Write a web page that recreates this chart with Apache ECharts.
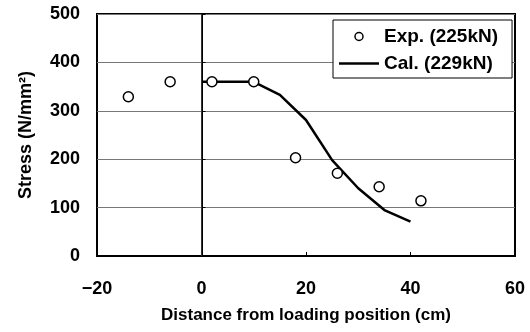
<!DOCTYPE html>
<html><head><meta charset="utf-8">
<script src="https://cdn.jsdelivr.net/npm/echarts@6/dist/echarts.min.js"></script>
<style>html,body{margin:0;padding:0;background:#fff}#c{width:530px;height:332px}</style>
</head><body><div id="c"></div>
<script>
var expX = [-14, -6, 2, 10, 18, 26, 34, 42];
var expY = [329, 360, 360, 360, 203, 171, 143, 114];
var calX = [0, 10, 15, 20, 25, 30, 35, 40];
var calY = [360, 360, 333, 281, 198, 140, 95, 71];
var xTicks = [-20, 0, 20, 40, 60];
var yTicks = [0, 100, 200, 300, 400, 500];
var seriesNames = ['Exp. (225kN)', 'Cal. (229kN)'];

var FONT = 'Liberation Sans';
var chart = echarts.init(document.getElementById('c'), null, {renderer: 'canvas'});
chart.setOption({
  animation: false,
  backgroundColor: '#fff',
  grid: {left: 97, right: 15, top: 14, bottom: 76, show: true, borderColor: '#000', borderWidth: 2, backgroundColor: 'transparent'},
  xAxis: {
    type: 'value', min: xTicks[0], max: xTicks[xTicks.length-1], interval: 20,
    name: 'Distance from loading position (cm)', nameLocation: 'middle', nameGap: 51,
    nameTextStyle: {fontFamily: FONT, fontSize: 17, color: '#000', fontWeight: 'bold'},
    axisLine: {show: true, lineStyle: {color: '#000', width: 2}},
    axisTick: {show: true, inside: true, length: 4, lineStyle: {color: '#000'}},
    axisLabel: {fontFamily: FONT, fontSize: 18, fontWeight: 'bold', color: '#000', margin: 24,
      formatter: function(v){ return v < 0 ? '\u2212' + (-v) : String(v); }},
    splitLine: {show: false}
  },
  yAxis: {
    type: 'value', min: yTicks[0], max: yTicks[yTicks.length-1], interval: 100,
    name: 'Stress (N/mm\u00B2)', nameLocation: 'middle', nameGap: 62, nameRotate: 90,
    nameTextStyle: {fontFamily: FONT, fontSize: 18, color: '#000', fontWeight: 'bold'},
    axisLine: {show: true, lineStyle: {color: '#000', width: 2}},
    axisTick: {show: true, inside: true, length: 4, lineStyle: {color: '#000'}},
    axisLabel: {fontFamily: FONT, fontSize: 18, fontWeight: 'bold', color: '#000', margin: 17},
    splitLine: {show: true, lineStyle: {color: '#777', width: 1}}
  },
  legend: {
    orient: 'vertical', left: 333, top: 20,
    backgroundColor: '#fff', borderColor: '#000', borderWidth: 1,
    padding: [7, 14, 5, 6], itemGap: 8, itemWidth: 40, itemHeight: 8, itemTextGap: 6,
    textStyle: {fontFamily: FONT, fontSize: 19, fontWeight: 'bold', color: '#000'},
    data: [
      {name: seriesNames[0], icon: 'circle', itemStyle: {color: '#fff', borderColor: '#000', borderWidth: 1.5}},
      {name: seriesNames[1], icon: 'path://M0,0 L40,0 L40,2.5 L0,2.5 Z', itemStyle: {color: '#000', borderWidth: 0}}
    ],
    z: 10
  },
  series: [
    {
      name: seriesNames[1], type: 'line', symbol: 'none', z: 2,
      data: calX.map(function(x, i){ return [x, calY[i]]; }),
      lineStyle: {color: '#000', width: 2.5},
      itemStyle: {color: '#000'},
      markLine: {silent: true, symbol: 'none', label: {show: false},
        lineStyle: {color: '#333', width: 1, type: 'solid'}, data: [{xAxis: 0}]}
    },
    {
      name: seriesNames[0], type: 'scatter', symbol: 'circle', symbolSize: 10, z: 3,
      data: expX.map(function(x, i){ return [x, expY[i]]; }),
      itemStyle: {color: '#fff', borderColor: '#000', borderWidth: 1.5, opacity: 1}
    }
  ]
});
</script></body></html>
